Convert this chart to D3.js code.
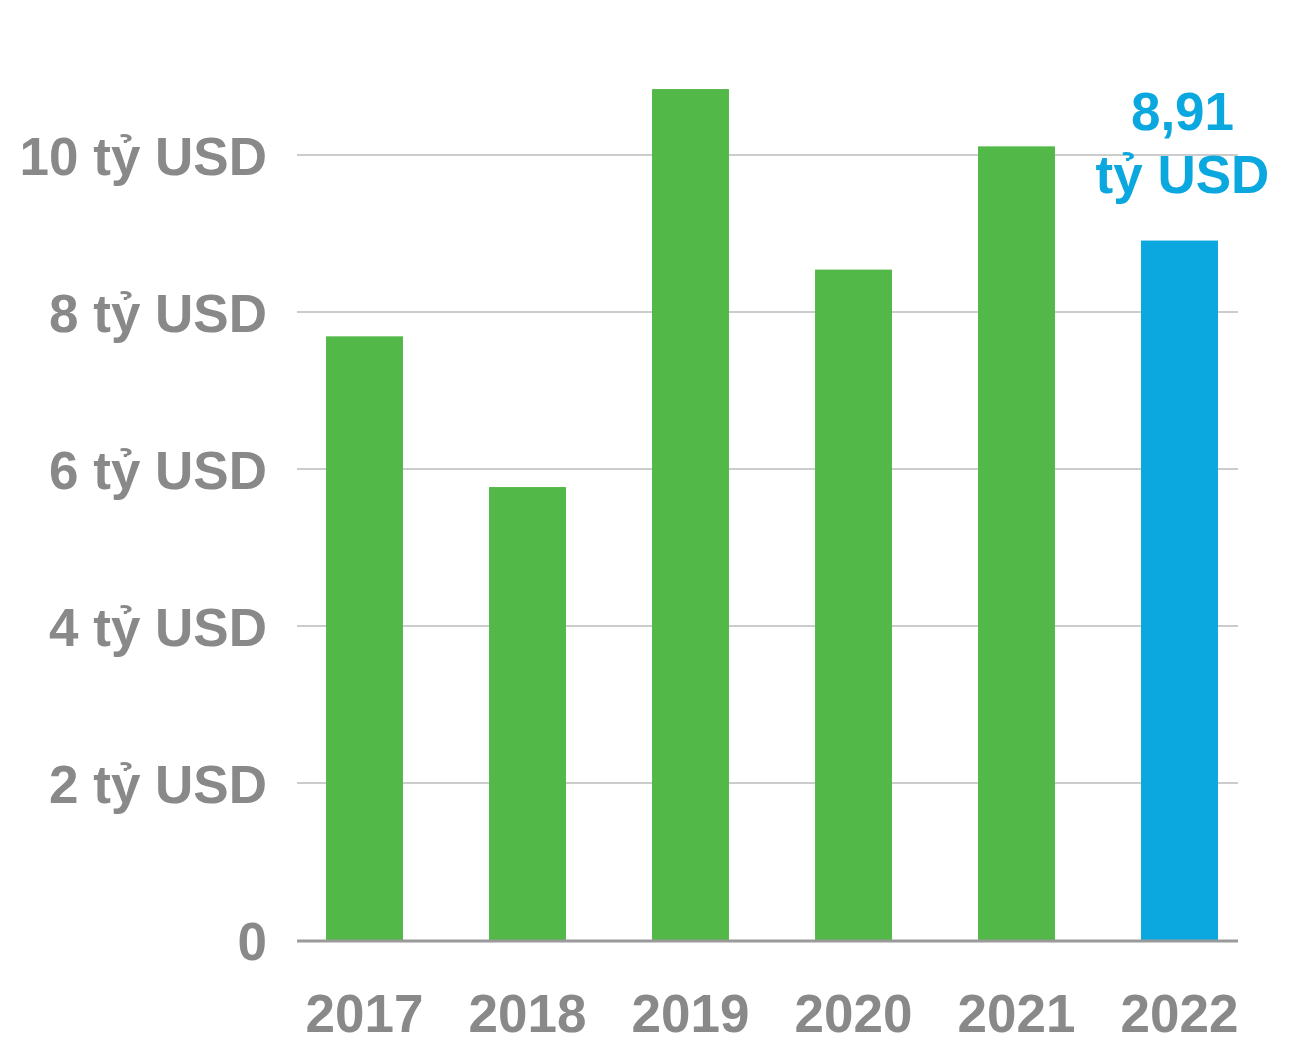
<!DOCTYPE html>
<html>
<head>
<meta charset="utf-8">
<script src="https://cdn.jsdelivr.net/npm/d3@7"></script>
<style>
  body { margin: 0; background: #fff; }
  svg { display: block; }
</style>
</head>
<body>
<svg></svg>
<script>
var years = ["2017", "2018", "2019", "2020", "2021", "2022"];
var values = [7.69, 5.77, 10.84, 8.54, 10.11, 8.91];
var ticks = [0, 2, 4, 6, 8, 10];
var tickLabels = ["0", "2 tỷ USD", "4 tỷ USD", "6 tỷ USD", "8 tỷ USD", "10 tỷ USD"];
var highlight = ["8,91", "tỷ USD"];

const W = 1291, H = 1049;
const gray = "#898989";
const green = "#52b848";
const blue = "#0aa8de";
const font = "'Liberation Sans', Arial, sans-serif";

window.onload = function() {
    var svg = d3.select("svg").attr("width", W).attr("height", H);

    var x = d3.scaleBand()
        .domain(years)
        .range([283, 1261])
        .paddingInner(0.528)
        .paddingOuter(0.264);

    var y = d3.scaleLinear()
        .domain([0, 10])
        .range([940, 155]);

    // gridlines
    svg.selectAll("line.grid")
        .data(ticks.filter(function(d){return d > 0;}))
        .enter().append("line")
        .attr("class", "grid")
        .attr("x1", 297).attr("x2", 1238)
        .attr("y1", function(d){return y(d);})
        .attr("y2", function(d){return y(d);})
        .attr("stroke", "#cccccc")
        .attr("stroke-width", 2);

    // y labels
    svg.selectAll("text.ylab")
        .data(ticks)
        .enter().append("text")
        .attr("class", "ylab")
        .attr("x", 267)
        .attr("y", function(d){return y(d) + 20;})
        .attr("text-anchor", "end")
        .attr("font-family", font)
        .attr("font-weight", "bold")
        .attr("font-size", 53)
        .attr("fill", gray)
        .text(function(d, i){return tickLabels[i];});

    // bars
    svg.selectAll("rect")
        .data(values)
        .enter().append("rect")
        .attr("x", function(d, i){return x(years[i]);})
        .attr("y", function(d){return y(d);})
        .attr("width", x.bandwidth())
        .attr("height", function(d){return y(0) - y(d);})
        .attr("fill", function(d, i){return i == years.length - 1 ? blue : green;});

    // baseline
    svg.append("line")
        .attr("x1", 297).attr("x2", 1238)
        .attr("y1", y(0) + 1).attr("y2", y(0) + 1)
        .attr("stroke", "#9a9a9a")
        .attr("stroke-width", 3);

    // x labels
    svg.selectAll("text.xlab")
        .data(years)
        .enter().append("text")
        .attr("class", "xlab")
        .attr("x", function(d){return x(d) + x.bandwidth() / 2;})
        .attr("y", 1032)
        .attr("text-anchor", "middle")
        .attr("font-family", font)
        .attr("font-weight", "bold")
        .attr("font-size", 53)
        .attr("fill", gray)
        .text(function(d){return d;});

    // annotation for last bar
    var last = years[years.length - 1];
    svg.selectAll("text.note")
        .data(highlight)
        .enter().append("text")
        .attr("class", "note")
        .attr("x", x(last) + x.bandwidth() / 2 + 3)
        .attr("y", function(d, i){return 130 + i * 63;})
        .attr("text-anchor", "middle")
        .attr("font-family", font)
        .attr("font-weight", "bold")
        .attr("font-size", 53)
        .attr("fill", blue)
        .text(function(d){return d;});
}
</script>
</body>
</html>
